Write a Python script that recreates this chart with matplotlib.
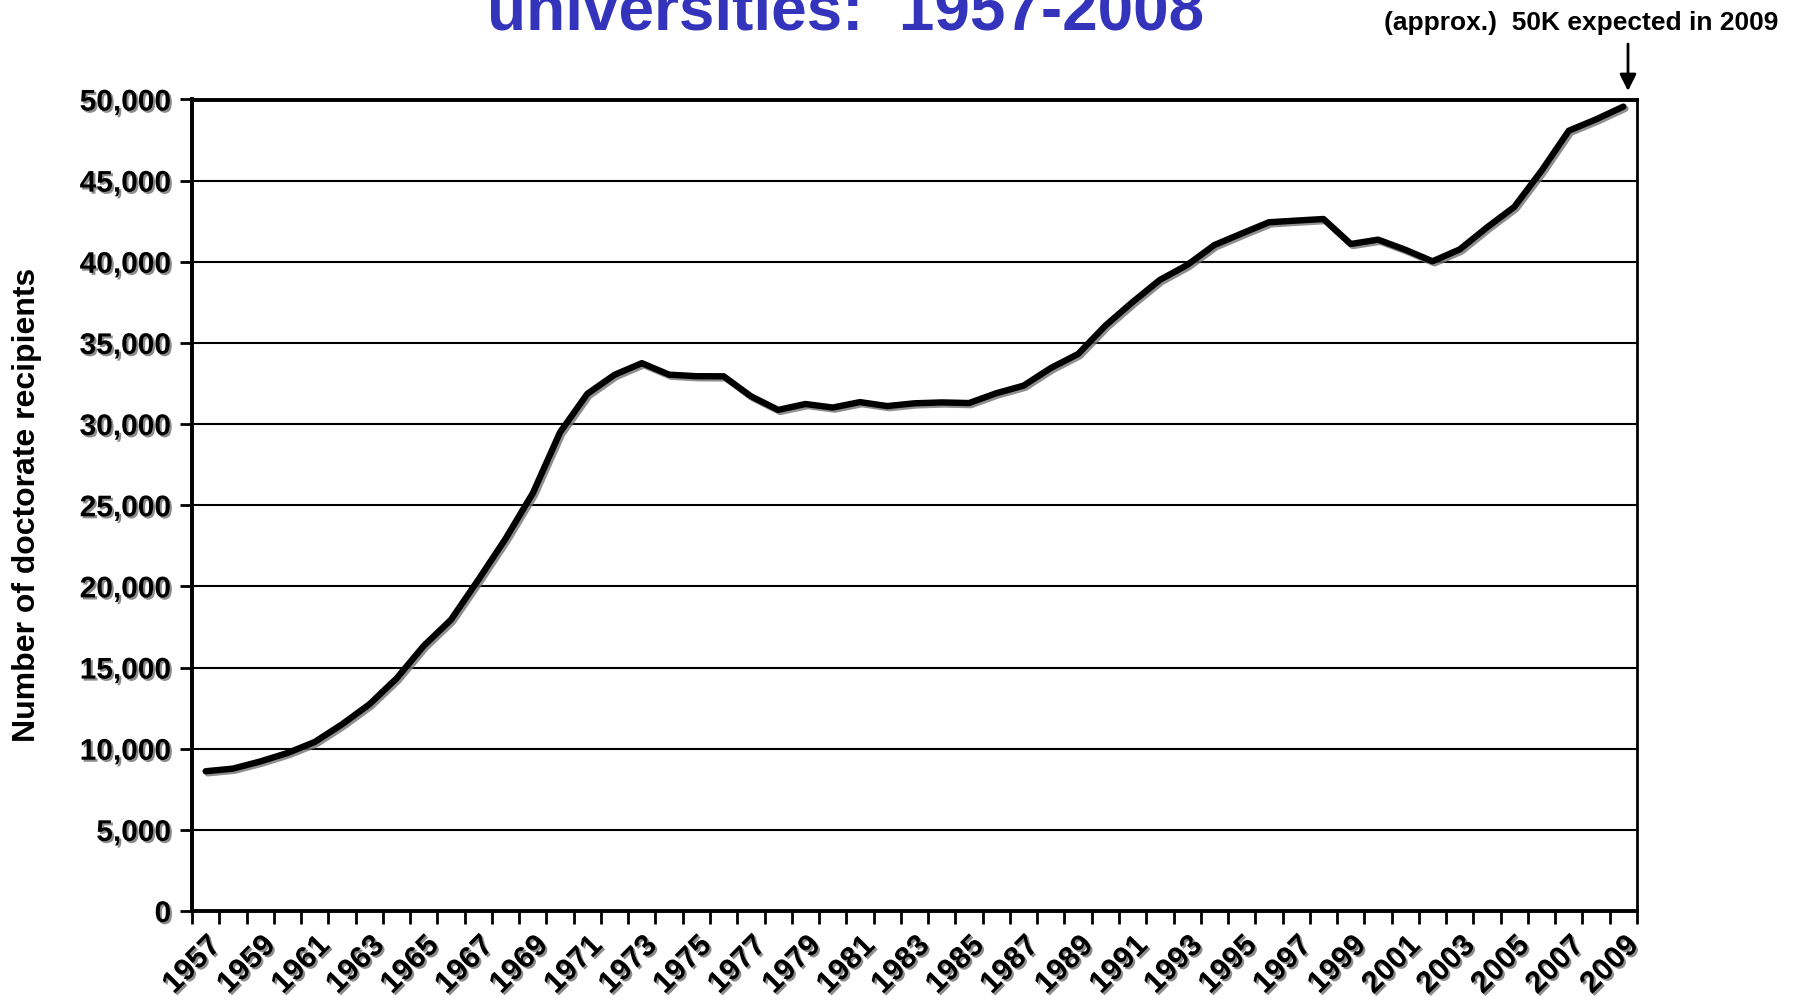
import matplotlib
matplotlib.use("Agg")
import matplotlib.pyplot as plt
import matplotlib.patheffects as pe
import numpy as np
from matplotlib.ticker import FuncFormatter

plt.rcParams['font.family'] = ['Liberation Sans', 'DejaVu Sans']

# ---- data ----
years = list(range(1957, 2010))
doctorates = [8611, 8773, 9213, 9733, 10413, 11500, 12728, 14325, 16340, 17949,
              20403, 22937, 25743, 29498, 31867, 33041, 33755, 33047, 32952, 32946,
              31716, 30875, 31239, 31020, 31356, 31111, 31282, 31337, 31297, 31902,
              32370, 33456, 34319, 36067, 37521, 38886, 39801, 41034, 41743, 42437,
              42539, 42637, 41097, 41366, 40744, 40031, 40765, 42122, 43385, 45617,
              48079, 48778, 49562]
y_ticks = list(range(0, 50001, 5000))
title_text = "universities:  1957-2008"
note_text = "(approx.)  50K expected in 2009"
ylabel_text = "Number of doctorate recipients"

W, H = 1801, 1002
fig = plt.figure(figsize=(W / 100, H / 100), dpi=100)
fig.patch.set_facecolor('white')

left, right, top, bottom = 192 / W, 1637 / W, 1 - 99.5 / H, 1 - 911 / H
ax = fig.add_axes([left, bottom, right - left, top - bottom])

x = np.arange(len(years))
line_fx = [pe.SimpleLineShadow(offset=(1.5, -1.5), shadow_color='0.45', alpha=0.8), pe.Normal()]
ax.plot(x, doctorates, color='black', lw=4.6, solid_capstyle='round',
        solid_joinstyle='round', path_effects=line_fx, zorder=3, clip_on=False)

ax.set_xlim(-0.5, len(years) - 0.5)
ax.set_ylim(0, 50000)

ax.set_yticks(y_ticks)
ax.yaxis.set_major_formatter(FuncFormatter(lambda v, p: f"{int(v):,}"))
ax.yaxis.grid(True, color='black', lw=1.5)
ax.set_axisbelow(True)

for s in ['left', 'bottom', 'top']:
    ax.spines[s].set_linewidth(2.8)
    ax.spines[s].set_color('black')
ax.spines['right'].set_linewidth(2.0)

txt_fx = [pe.SimplePatchShadow(offset=(1.5, -1.5), shadow_rgbFace='0.5', alpha=0.9), pe.Normal()]

ax.tick_params(axis='y', direction='out', length=9, width=2, labelsize=21.5, pad=6)
for lab in ax.get_yticklabels():
    lab.set_fontweight('bold')
    lab.set_path_effects(txt_fx)

# category boundaries as ticks, labels centred on every second year
ax.set_xticks(np.arange(-0.5, len(years), 1))
ax.set_xticklabels([])
ax.tick_params(axis='x', which='major', direction='out', length=9, width=2)
ax.set_xticks(x[::2], minor=True)
ax.set_xticklabels([str(y) for y in years[::2]], minor=True, rotation=45,
                   ha='right', va='top', rotation_mode='anchor',
                   fontsize=22, fontweight='bold')
ax.tick_params(axis='x', which='minor', length=0, pad=14)
for lab in ax.get_xticklabels(minor=True):
    lab.set_path_effects(txt_fx)

fig.text(27 / W, 1 - 504.5 / H, ylabel_text, rotation=90, ha='center', va='center',
         fontsize=23, fontweight='bold')

fig.text(846 / W, 1 - 29 / H, title_text, ha='center', va='baseline',
         fontsize=46, fontweight='bold', color='#3333BB')

fig.text(1778 / W, 1 - 30 / H, note_text, ha='right', va='baseline',
         fontsize=19, fontweight='bold', color='black')
fig.add_artist(matplotlib.patches.FancyArrowPatch(
    (1628 / W, 1 - 44 / H), (1628 / W, 1 - 91 / H), transform=fig.transFigure,
    arrowstyle='-|>', mutation_scale=25, lw=2, color='black',
    shrinkA=0, shrinkB=0))

fig.savefig('out.png', dpi=100, facecolor='white')
